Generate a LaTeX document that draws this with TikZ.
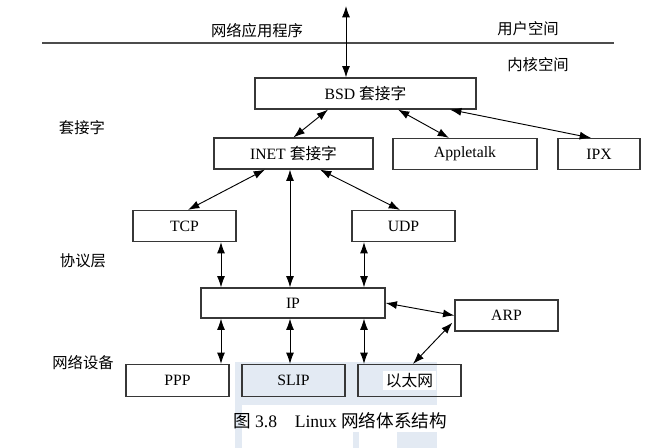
\documentclass[tikz,border=0pt]{standalone}
\usepackage{fontspec}
\setmainfont{Liberation Serif}
\newfontfamily\cjk{Noto Sans CJK SC}
\usetikzlibrary{arrows.meta,calc}
\definecolor{wmark}{RGB}{227,234,243}
\definecolor{boxline}{RGB}{55,55,55}

\begin{document}
\begin{tikzpicture}[x=0.75pt,y=-0.75pt,<->,>={Latex[length=8.5pt,width=6pt]},line width=0.7pt,
  box/.style={draw=boxline,line width=0.9pt,minimum height=23.25pt,inner sep=0pt,font=\fontsize{11.8}{14}\selectfont},
  lbl/.style={font=\fontsize{11.5}{14}\selectfont\cjk}]
\useasboundingbox (0,0) rectangle (669,448);

\fill[wmark] (235,362) rectangle (437,405);
\fill[wmark] (235,405) rectangle (242,448);
\fill[wmark] (353,432) rectangle (359,448);
\fill[wmark] (397,432) rectangle (437,448);

\coordinate (ul) at (42,43);
\coordinate (ur) at (614,43);
\coordinate (app) at (346,6);
\draw[-,draw=black!70,line width=0.9pt] (ul) -- (ur);

\node[lbl] (user) at (257,31) {网络应用程序};
\node[lbl] (us) at (528,29) {用户空间};
\node[lbl] (ks) at (538,65) {内核空间};
\node[lbl] (l1) at (82,128) {套接字};
\node[lbl] (l2) at (83,261) {协议层};
\node[lbl] (l3) at (83,363) {网络设备};

\node[box,minimum width=165.75pt] (bsd) at (365.5,93.5) {BSD {\cjk 套接字}};
\node[box,minimum width=119.25pt] (inet) at (293.5,153.5) {INET {\cjk 套接字}};
\node[box,minimum width=108pt] (apple) at (465,154) {Appletalk};
\node[box,minimum width=61.5pt] (ipx) at (599,154) {IPX};
\node[box,minimum width=77.25pt] (tcp) at (184.5,226) {TCP};
\node[box,minimum width=77.25pt] (udp) at (403.5,226) {UDP};
\node[box,minimum width=138pt,minimum height=22.5pt] (ip) at (293,303) {IP};
\node[box,minimum width=77.25pt] (arp) at (506.5,315.5) {ARP};
\node[box,minimum width=77.25pt,minimum height=24pt,fill=white] (ppp) at (177.5,380.5) {PPP};
\node[box,minimum width=77.25pt,minimum height=24pt] (slip) at (293.5,380.5) {SLIP};
\node[box,minimum width=77.25pt,minimum height=24pt] (eth) at (409.5,380.5) {};
\node[fill=white,inner sep=2pt,font=\fontsize{11.8}{14}\selectfont\cjk] (ethtxt) at (eth.center) {以太网};

\node[font=\fontsize{13.2}{16}\selectfont] (cap) at (340,421) {{\cjk 图} 3.8\quad Linux {\cjk 网络体系结构}};

\draw (app) -- (app |- bsd.north);
\draw ($(bsd.south)+(-37.5,0)$) -- (inet.north);
\draw ($(bsd.south)+(32.5,0)$) -- ($(apple.north)+(-16,0)$);
\draw ($(bsd.south)+(84.5,0)$) -- ($(ipx.north)+(-8,0)$);
\draw ($(inet.south)+(-28.5,0)$) -- ($(tcp.north)+(3.5,0)$);
\draw ($(inet.south)+(-3.5,0)$) -- ($(ip.north)+(-3,0)$);
\draw ($(inet.south)+(26.5,0)$) -- ($(udp.north)+(-3.5,0)$);
\draw ($(tcp.south)+(36.5,0)$) coordinate (t1) -- (t1 |- ip.north);
\draw ($(udp.south)+(-39.5,0)$) coordinate (u1) -- (u1 |- ip.north);
\draw (t1 |- ip.south) -- (t1 |- ppp.north);
\draw ($(ip.south)+(-3,0)$) -- ($(slip.north)+(-3.5,0)$);
\draw (u1 |- ip.south) -- (u1 |- eth.north);
\draw (ip.east) -- (arp.west);
\draw ($(arp.south west)+(-2,-9)$) -- ($(eth.north)+(3.5,0)$);
\end{tikzpicture}
\end{document}
